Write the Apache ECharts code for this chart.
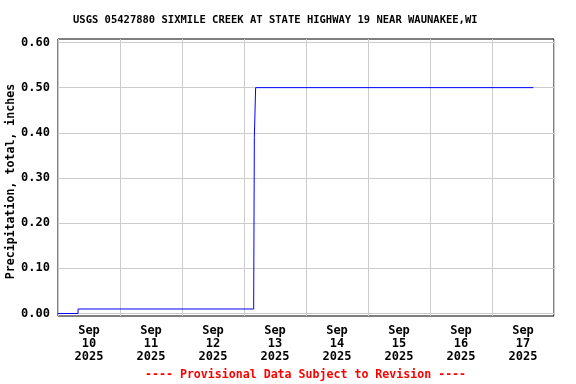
<!DOCTYPE html>
<html>
<head>
<meta charset="utf-8">
<script src="https://cdn.jsdelivr.net/npm/echarts@6/dist/echarts.min.js"></script>
<style>html,body{margin:0;padding:0;background:#fff}#c{width:576px;height:384px}</style>
</head>
<body>
<div id="c"></div>
<script>
// ---- data ----
const chartTitle = 'USGS 05427880 SIXMILE CREEK AT STATE HIGHWAY 19 NEAR WAUNAKEE,WI';
const yAxisName = 'Precipitation, total, inches';
const footnote = '---- Provisional Data Subject to Revision ----';
const stepTimes = ['2025-09-10T00:00', '2025-09-10T07:45', '2025-09-13T03:45', '2025-09-13T04:00', '2025-09-13T04:30', '2025-09-17T16:00'];
const precipValues = [0.00, 0.01, 0.03, 0.39, 0.50, 0.50];
const dayLabels = ['Sep\n10\n2025', 'Sep\n11\n2025', 'Sep\n12\n2025', 'Sep\n13\n2025', 'Sep\n14\n2025', 'Sep\n15\n2025', 'Sep\n16\n2025', 'Sep\n17\n2025'];
const yTickValues = [0, 0.1, 0.2, 0.3, 0.4, 0.5, 0.6];
const xStart = '2025-09-10T00:00';
const xEnd = '2025-09-18T00:00';

const DAY = 86400000;
const toMs = s => Date.parse(s + ':00Z');
const seriesData = stepTimes.map((t, i) => [toMs(t), precipValues[i]]);

const FONT = 'DejaVu Sans Mono';
const chart = echarts.init(document.getElementById('c'), null, {renderer: 'canvas'});
chart.setOption({
  animation: false,
  backgroundColor: '#ffffff',
  title: {
    text: chartTitle, left: 73, top: 15, padding: 0,
    textStyle: {fontFamily: FONT, fontSize: 10.5, fontWeight: 'bold', color: '#000'}
  },
  grid: {left: 58, right: 22, top: 39, bottom: 68, outerBoundsMode: 'none', containLabel: false,
    show: true, borderColor: '#000', borderWidth: 1, backgroundColor: 'transparent'},
  xAxis: [{
    type: 'value', min: toMs(xStart), max: toMs(xEnd), interval: DAY,
    axisLine: {show: false}, axisTick: {show: false}, axisLabel: {show: false},
    splitLine: {show: true, lineStyle: {color: '#cccccc', width: 1}}
  }, {
    type: 'category', data: dayLabels, boundaryGap: true, position: 'bottom',
    axisLine: {show: false}, axisTick: {show: false}, splitLine: {show: false},
    axisLabel: {margin: 8, lineHeight: 13, fontFamily: FONT, fontSize: 12, fontWeight: 'bold', color: '#000', interval: 0}
  }],
  yAxis: {
    type: 'value', min: -0.0055, max: 0.6077,
    name: yAxisName, nameLocation: 'middle', nameGap: 41, nameRotate: 90, nameMoveOverlap: false,
    nameTextStyle: {fontFamily: FONT, fontSize: 11.6, fontWeight: 'bold', color: '#000', padding: [0, 8, 0, 0]},
    axisLine: {show: false},
    axisTick: {show: false, customValues: yTickValues},
    axisLabel: {customValues: yTickValues, margin: 8, fontFamily: FONT, fontSize: 12, fontWeight: 'bold', color: '#000', formatter: v => v.toFixed(2)},
    splitLine: {show: true, lineStyle: {color: '#cccccc', width: 1}}
  },
  series: [{
    type: 'line', step: 'end', data: seriesData, xAxisIndex: 0, yAxisIndex: 0,
    showSymbol: false, symbol: 'none', z: 5, lineStyle: {color: '#0000ff', width: 1}
  }],
  graphic: [{
    type: 'text', left: 145, top: 369,
    style: {text: footnote, fill: '#ff0000', font: 'bold 11.6px "DejaVu Sans Mono"'}
  }]
});
</script>
</body>
</html>
